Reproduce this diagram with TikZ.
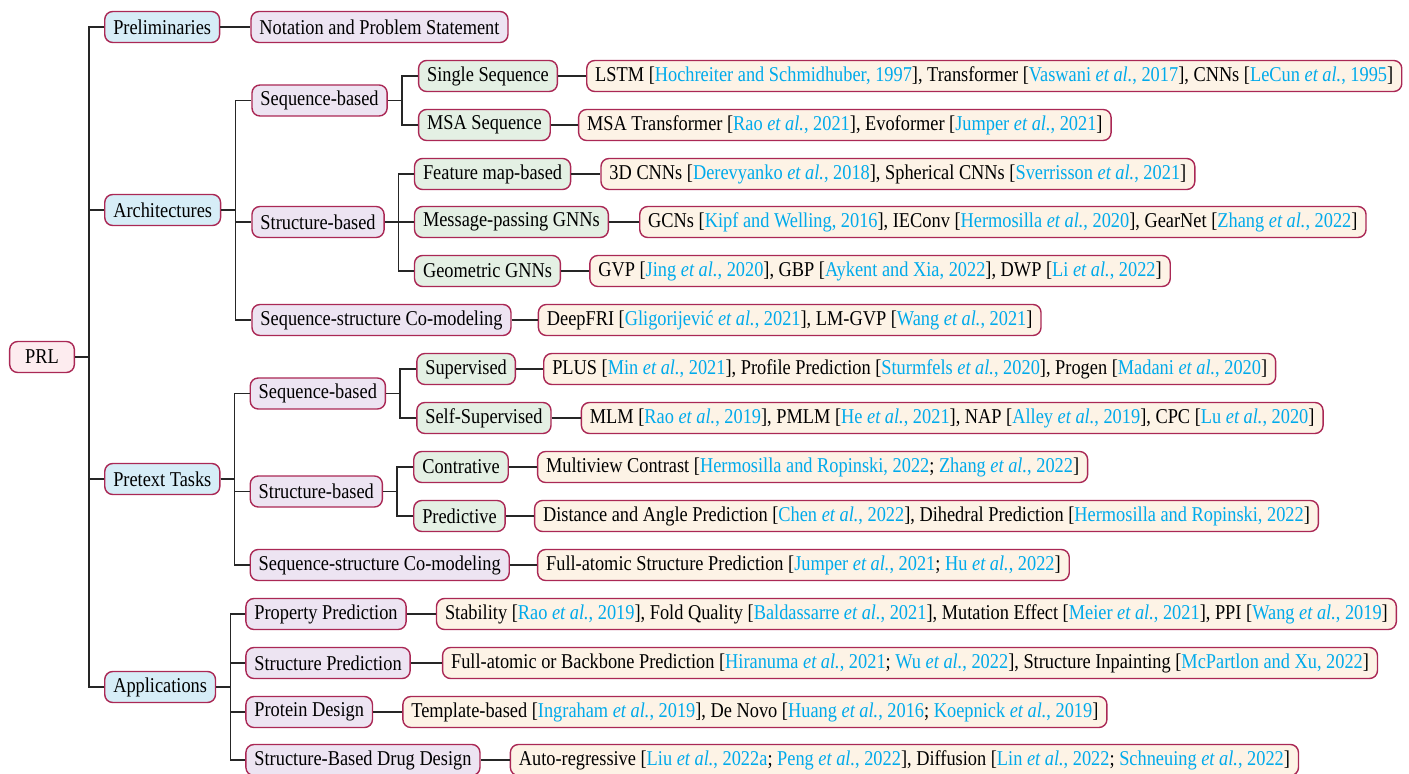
\documentclass[tikz,border=0pt]{standalone}
\usepackage{fontspec}
\setmainfont{Liberation Serif}[FakeStretch=0.87]
\usepackage{tikz}
\usetikzlibrary{calc}

\definecolor{citeblue}{RGB}{0,170,235}
\definecolor{boxline}{RGB}{170,40,85}
\definecolor{rootfill}{RGB}{253,236,239}
\definecolor{catfill}{RGB}{214,237,247}
\definecolor{subfill}{RGB}{237,228,242}
\definecolor{subsubfill}{RGB}{228,240,228}
\definecolor{leaffill}{RGB}{253,243,230}

\newcommand{\citec}[1]{\textcolor{citeblue}{#1}}
\newcommand{\etal}{\textit{et al.}}

\begin{document}
\begin{tikzpicture}[
  font=\fontsize{6}{7}\selectfont,
  anybox/.style={draw=boxline, line width=0.4pt, rounded corners=0.08cm, anchor=west,
    minimum height=0.31cm, inner ysep=0pt, inner xsep=0.085cm},
  rootbox/.style={anybox, fill=rootfill, inner xsep=0.155cm},
  catbox/.style={anybox, fill=catfill},
  subbox/.style={anybox, fill=subfill},
  subsubbox/.style={anybox, fill=subsubfill},
  leafbox/.style={anybox, fill=leaffill},
  link/.style={draw=black!85, line width=0.37pt}
]
\useasboundingbox (0,0) rectangle (14.09,-7.74);

\node[rootbox] (prl) at (0.09,-3.57) {PRL};

\node[catbox] (prel) at ($(prl.east |- 0,-0.27)+(0.29,0)$) {Preliminaries};
\node[catbox] (arch) at ($(prl.east |- 0,-2.10)+(0.29,0)$) {Architectures};
\node[catbox] (pret) at ($(prl.east |- 0,-4.79)+(0.29,0)$) {Pretext Tasks};
\node[catbox] (appl) at ($(prl.east |- 0,-6.87)+(0.29,0)$) {Applications};

\node[subbox] (notat) at ($(prel.east |- 0,-0.27)+(0.30,0)$) {Notation and Problem Statement};

\node[subbox] (archseq) at ($(arch.east |- 0,-1.005)+(0.30,0)$) {Sequence-based};
\node[subbox] (archstr) at ($(arch.east |- 0,-2.22)+(0.30,0)$) {Structure-based};
\node[subbox] (archco) at ($(arch.east |- 0,-3.20)+(0.30,0)$) {Sequence-structure Co-modeling};

\node[subsubbox] (single) at ($(archseq.east |- 0,-0.76)+(0.30,0)$) {Single Sequence};
\node[subsubbox] (msa) at ($(archseq.east |- 0,-1.25)+(0.30,0)$) {MSA Sequence};
\node[subsubbox] (featmap) at ($(archstr.east |- 0,-1.74)+(0.29,0)$) {Feature map-based};
\node[subsubbox] (mpgnn) at ($(archstr.east |- 0,-2.22)+(0.29,0)$) {Message-passing GNNs};
\node[subsubbox] (geognn) at ($(archstr.east |- 0,-2.71)+(0.29,0)$) {Geometric GNNs};

\node[leafbox] (singlel) at ($(single.east)+(0.28,0)$) {LSTM [\citec{Hochreiter and Schmidhuber, 1997}], Transformer [\citec{Vaswani \etal, 2017}], CNNs [\citec{LeCun \etal, 1995}]};
\node[leafbox] (msal) at ($(msa.east)+(0.27,0)$) {MSA Transformer [\citec{Rao \etal, 2021}], Evoformer [\citec{Jumper \etal, 2021}]};
\node[leafbox] (featmapl) at ($(featmap.east)+(0.29,0)$) {3D CNNs [\citec{Derevyanko \etal, 2018}], Spherical CNNs [\citec{Sverrisson \etal, 2021}]};
\node[leafbox] (mpgnnl) at ($(mpgnn.east)+(0.30,0)$) {GCNs [\citec{Kipf and Welling, 2016}], IEConv [\citec{Hermosilla \etal, 2020}], GearNet [\citec{Zhang \etal, 2022}]};
\node[leafbox] (geognnl) at ($(geognn.east)+(0.28,0)$) {GVP [\citec{Jing \etal, 2020}], GBP [\citec{Aykent and Xia, 2022}], DWP [\citec{Li \etal, 2022}]};
\node[leafbox] (archcol) at ($(archco.east)+(0.26,0)$) {DeepFRI [\citec{Gligorijević \etal, 2021}], LM-GVP [\citec{Wang \etal, 2021}]};

\node[subbox] (pretseq) at ($(pret.east |- 0,-3.935)+(0.29,0)$) {Sequence-based};
\node[subbox] (pretstr) at ($(pret.east |- 0,-4.915)+(0.29,0)$) {Structure-based};
\node[subbox] (pretco) at ($(pret.east |- 0,-5.65)+(0.29,0)$) {Sequence-structure Co-modeling};

\node[subsubbox] (superv) at ($(pretseq.east |- 0,-3.69)+(0.30,0)$) {Supervised};
\node[subsubbox] (selfsup) at ($(pretseq.east |- 0,-4.18)+(0.30,0)$) {Self-Supervised};
\node[subsubbox] (contr) at ($(pretstr.east |- 0,-4.67)+(0.30,0)$) {Contrative};
\node[subsubbox] (predic) at ($(pretstr.east |- 0,-5.16)+(0.30,0)$) {Predictive};

\node[leafbox] (supervl) at ($(superv.east)+(0.27,0)$) {PLUS [\citec{Min \etal, 2021}], Profile Prediction [\citec{Sturmfels \etal, 2020}], Progen [\citec{Madani \etal, 2020}]};
\node[leafbox] (selfsupl) at ($(selfsup.east)+(0.29,0)$) {MLM [\citec{Rao \etal, 2019}], PMLM [\citec{He \etal, 2021}], NAP [\citec{Alley \etal, 2019}], CPC [\citec{Lu \etal, 2020}]};
\node[leafbox] (contrl) at ($(contr.east)+(0.28,0)$) {Multiview Contrast [\citec{Hermosilla and Ropinski, 2022}; \citec{Zhang \etal, 2022}]};
\node[leafbox] (predicl) at ($(predic.east)+(0.28,0)$) {Distance and Angle Prediction [\citec{Chen \etal, 2022}], Dihedral Prediction [\citec{Hermosilla and Ropinski, 2022}]};
\node[leafbox] (pretcol) at ($(pretco.east)+(0.27,0)$) {Full-atomic Structure Prediction [\citec{Jumper \etal, 2021}; \citec{Hu \etal, 2022}]};

\node[subbox] (propp) at ($(appl.east |- 0,-6.14)+(0.29,0)$) {Property Prediction};
\node[subbox] (strucp) at ($(appl.east |- 0,-6.63)+(0.29,0)$) {Structure Prediction};
\node[subbox] (protd) at ($(appl.east |- 0,-7.12)+(0.29,0)$) {Protein Design};
\node[subbox] (sbdd) at ($(appl.east |- 0,-7.60)+(0.29,0)$) {Structure-Based Drug Design};

\node[leafbox] (proppl) at ($(propp.east)+(0.29,0)$) {Stability [\citec{Rao \etal, 2019}], Fold Quality [\citec{Baldassarre \etal, 2021}], Mutation Effect [\citec{Meier \etal, 2021}], PPI [\citec{Wang \etal, 2019}]};
\node[leafbox] (strucpl) at ($(strucp.east)+(0.31,0)$) {Full-atomic or Backbone Prediction [\citec{Hiranuma \etal, 2021}; \citec{Wu \etal, 2022}], Structure Inpainting [\citec{McPartlon and Xu, 2022}]};
\node[leafbox] (protdl) at ($(protd.east)+(0.29,0)$) {Template-based [\citec{Ingraham \etal, 2019}], De Novo [\citec{Huang \etal, 2016}; \citec{Koepnick \etal, 2019}]};
\node[leafbox] (sbddl) at ($(sbdd.east)+(0.29,0)$) {Auto-regressive [\citec{Liu \etal, 2022a}; \citec{Peng \etal, 2022}], Diffusion [\citec{Lin \etal, 2022}; \citec{Schneuing \etal, 2022}]};

\draw[link] (prl.east) -- ++(0.14,0) |- (prel.west);
\draw[link] (prl.east) -- ++(0.14,0) |- (arch.west);
\draw[link] (prl.east) -- ++(0.14,0) |- (pret.west);
\draw[link] (prl.east) -- ++(0.14,0) |- (appl.west);

\draw[link] (prel) -- (notat);

\draw[link] (arch.east) -- ++(0.14,0) |- (archseq.west);
\draw[link] (arch.east) -- ++(0.14,0) |- (archstr.west);
\draw[link] (arch.east) -- ++(0.14,0) |- (archco.west);

\draw[link] (archseq.east) -- ++(0.14,0) |- (single.west);
\draw[link] (archseq.east) -- ++(0.14,0) |- (msa.west);
\draw[link] (archstr.east) -- ++(0.14,0) |- (featmap.west);
\draw[link] (archstr.east) -- ++(0.14,0) |- (mpgnn.west);
\draw[link] (archstr.east) -- ++(0.14,0) |- (geognn.west);

\draw[link] (single) -- (singlel);
\draw[link] (msa) -- (msal);
\draw[link] (featmap) -- (featmapl);
\draw[link] (mpgnn) -- (mpgnnl);
\draw[link] (geognn) -- (geognnl);
\draw[link] (archco) -- (archcol);

\draw[link] (pret.east) -- ++(0.14,0) |- (pretseq.west);
\draw[link] (pret.east) -- ++(0.14,0) |- (pretstr.west);
\draw[link] (pret.east) -- ++(0.14,0) |- (pretco.west);

\draw[link] (pretseq.east) -- ++(0.14,0) |- (superv.west);
\draw[link] (pretseq.east) -- ++(0.14,0) |- (selfsup.west);
\draw[link] (pretstr.east) -- ++(0.14,0) |- (contr.west);
\draw[link] (pretstr.east) -- ++(0.14,0) |- (predic.west);

\draw[link] (superv) -- (supervl);
\draw[link] (selfsup) -- (selfsupl);
\draw[link] (contr) -- (contrl);
\draw[link] (predic) -- (predicl);
\draw[link] (pretco) -- (pretcol);

\draw[link] (appl.east) -- ++(0.14,0) |- (propp.west);
\draw[link] (appl.east) -- ++(0.14,0) |- (strucp.west);
\draw[link] (appl.east) -- ++(0.14,0) |- (protd.west);
\draw[link] (appl.east) -- ++(0.14,0) |- (sbdd.west);

\draw[link] (propp) -- (proppl);
\draw[link] (strucp) -- (strucpl);
\draw[link] (protd) -- (protdl);
\draw[link] (sbdd) -- (sbddl);

\end{tikzpicture}
\end{document}
